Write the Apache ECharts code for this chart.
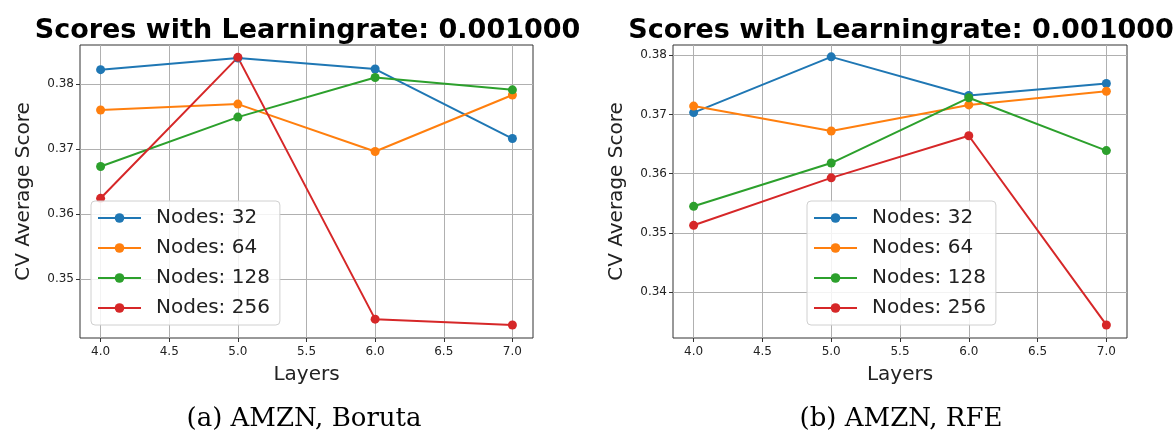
<!DOCTYPE html>
<html>
<head>
<meta charset="utf-8">
<script src="https://cdn.jsdelivr.net/npm/echarts@6/dist/echarts.min.js"></script>
<style>html,body{margin:0;padding:0;background:#fff;}#c{width:1174px;height:434px;}</style>
</head>
<body>
<div id="c"></div>
<script>
const layers = [4, 5, 6, 7];
const seriesNames = ['Nodes: 32', 'Nodes: 64', 'Nodes: 128', 'Nodes: 256'];
const xTicks = [4.0, 4.5, 5.0, 5.5, 6.0, 6.5, 7.0];
const yTicksBoruta = [0.35, 0.36, 0.37, 0.38];
const yTicksRfe = [0.34, 0.35, 0.36, 0.37, 0.38];
const boruta32 = [0.3822, 0.3840, 0.3823, 0.3716];
const boruta64 = [0.3760, 0.3769, 0.3696, 0.3783];
const boruta128 = [0.3673, 0.3749, 0.3810, 0.3791];
const boruta256 = [0.3624, 0.3841, 0.3438, 0.3429];
const rfe32 = [0.3703, 0.3797, 0.3732, 0.3752];
const rfe64 = [0.3714, 0.3672, 0.3716, 0.3739];
const rfe128 = [0.3545, 0.3618, 0.3728, 0.3639];
const rfe256 = [0.3513, 0.3593, 0.3664, 0.3345];
const titleText = 'Scores with Learningrate: 0.001000';
const captions = ['(a) AMZN, Boruta', '(b) AMZN, RFE'];

const colors = ['#1f77b4', '#ff7f0e', '#2ca02c', '#d62728'];
const chart = echarts.init(document.getElementById('c'), null, {renderer: 'canvas'});

const grids = [
  {left: 80, top: 45, width: 453, height: 293},
  {left: 673, top: 45, width: 454, height: 293}
];
const yRanges = [[0.3409, 0.3860], [0.3323, 0.3817]];
const yTicks = [yTicksBoruta, yTicksRfe];
const panels = [[boruta32, boruta64, boruta128, boruta256], [rfe32, rfe64, rfe128, rfe256]];

const font = 'DejaVu Sans';
const option = {
  animation: false,
  backgroundColor: '#fff',
  color: colors,
  title: [],
  grid: grids.map(g => Object.assign({show: true, borderColor: '#333', borderWidth: 1, backgroundColor: 'transparent'}, g)),
  xAxis: [], yAxis: [], legend: [], series: []
};

grids.forEach((g, i) => {
  const cx = g.left + g.width / 2;
  option.title.push({text: titleText, left: cx - 4, top: 12, textAlign: 'center',
    textStyle: {fontFamily: font, fontWeight: 'bold', fontSize: 27, color: '#000'}});
  option.title.push({text: captions[i], left: i === 0 ? 299 : 896, top: 401, textAlign: 'center',
    textStyle: {fontFamily: 'DejaVu Serif', fontWeight: 'normal', fontSize: 26, color: '#000'}});
  option.xAxis.push({
    type: 'value', gridIndex: i, min: 3.85, max: 7.15,
    name: 'Layers', nameLocation: 'middle', nameGap: 27,
    nameTextStyle: {fontFamily: font, fontSize: 20, color: '#222'},
    axisLine: {show: false},
    axisTick: {show: true, length: 4, customValues: xTicks, lineStyle: {color: '#333'}},
    axisLabel: {customValues: xTicks, margin: 8, fontFamily: font, fontSize: 12, color: '#222',
      formatter: v => v.toFixed(1)},
    splitLine: {show: true, lineStyle: {color: '#b0b0b0', width: 1}}
  });
  option.yAxis.push({
    type: 'value', gridIndex: i, min: yRanges[i][0], max: yRanges[i][1],
    name: 'CV Average Score', nameLocation: 'middle', nameGap: 46,
    nameTextStyle: {fontFamily: font, fontSize: 20, color: '#222'},
    axisLine: {show: false},
    axisTick: {show: true, length: 4, customValues: yTicks[i], lineStyle: {color: '#333'}},
    axisLabel: {customValues: yTicks[i], margin: 6, fontFamily: font, fontSize: 12, color: '#222',
      formatter: v => v.toFixed(2)},
    splitLine: {show: true, lineStyle: {color: '#b0b0b0', width: 1}}
  });
  option.legend.push({
    orient: 'vertical', left: i === 0 ? 91 : 807, top: 201,
    data: seriesNames,
    itemWidth: 43, itemHeight: 12, itemGap: 8,
    padding: [6, 10, 6, 6],
    backgroundColor: 'rgba(255,255,255,0.85)', borderColor: '#d0d0d0', borderWidth: 1, borderRadius: 4,
    textStyle: {fontFamily: font, fontSize: 20, color: '#222', lineHeight: 22, padding: [0, 0, 0, 10]}
  });
  panels[i].forEach((vals, k) => {
    option.series.push({
      type: 'line', name: seriesNames[k], xAxisIndex: i, yAxisIndex: i,
      data: layers.map((x, j) => [x, vals[j]]),
      symbol: 'circle', symbolSize: 9,
      lineStyle: {width: 2, color: colors[k]},
      itemStyle: {color: colors[k]}
    });
  });
});

chart.setOption(option);
</script>
</body>
</html>
